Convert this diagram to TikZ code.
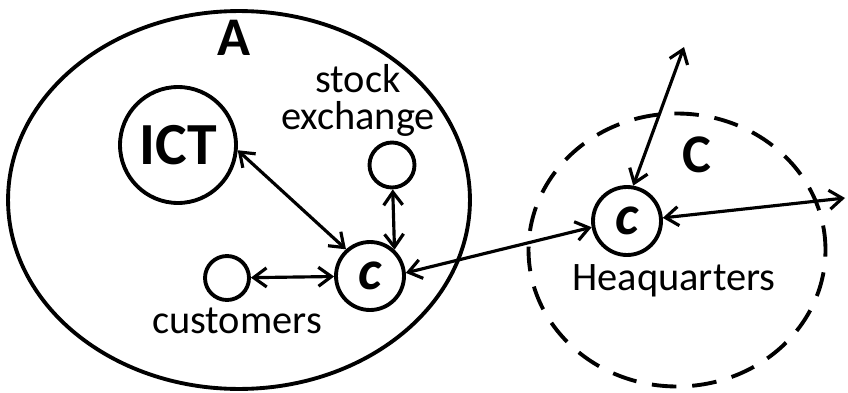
\documentclass[tikz,border=0pt]{standalone}
\usepackage{fontspec}
\setmainfont{Carlito}
\usetikzlibrary{arrows.meta,positioning,shapes.geometric}

\begin{document}
\begin{tikzpicture}[x=0.02cm, y=-0.02cm, line width=2.2pt, every node/.style={font=\fontsize{23}{21}\selectfont}, site/.style={draw, circle, inner sep=0pt}, hub/.style={site, minimum size=1.36cm, font=\fontsize{32}{32}\selectfont\bfseries\itshape}, region/.style={draw, ellipse, inner sep=0pt}, big/.style={font=\fontsize{31}{31}\selectfont\bfseries}, arrow/.style={{Straight Barb[length=2.6mm,width=3.8mm]}-{Straight Barb[length=2.6mm,width=3.8mm]}, line width=1.8pt}]
\useasboundingbox (0,0) rectangle (848,392);
% the two regions
\node[region, minimum width=9.24cm, minimum height=7.56cm] (A) at (239,200) {};
\node[region, dashed, dash pattern=on 14pt off 9pt, minimum width=5.94cm, minimum height=5.46cm] (C) at (677,250) {};
\node[big] (lA) at (234,38) {A};
\node[big] (lC) at (697,155) {C};
% sites inside A
\node[site, minimum size=2.32cm, font=\fontsize{34}{34}\selectfont\bfseries] (ict) at (178,145) {ICT};
\node[site, minimum size=0.9cm] (se) at (392,165) {};
\node[site, minimum size=0.88cm] (cust) at (227,278) {};
\node[hub] (c1) at (370,276) {c};
\node[anchor=base, align=center] (lse) at (358,129) {stock\\exchange};
\node[anchor=base] (lcust) at (237,333) {customers};
% headquarters in C
\node[hub] (hq) at (627,221) {c};
\node[anchor=base] (lhq) at (674,290) {Heaquarters};
\coordinate (up) at (684,47);
\coordinate (out) at (845,198);
\draw[arrow] (ict.-5)--(c1.132); \draw[arrow] (se)--(c1.47); \draw[arrow] (cust)--(c1); \draw[arrow] (c1.5)--(hq.190); \draw[arrow] (hq.80)--(up); \draw[arrow] (hq.5)--(out);
\end{tikzpicture}
\end{document}
